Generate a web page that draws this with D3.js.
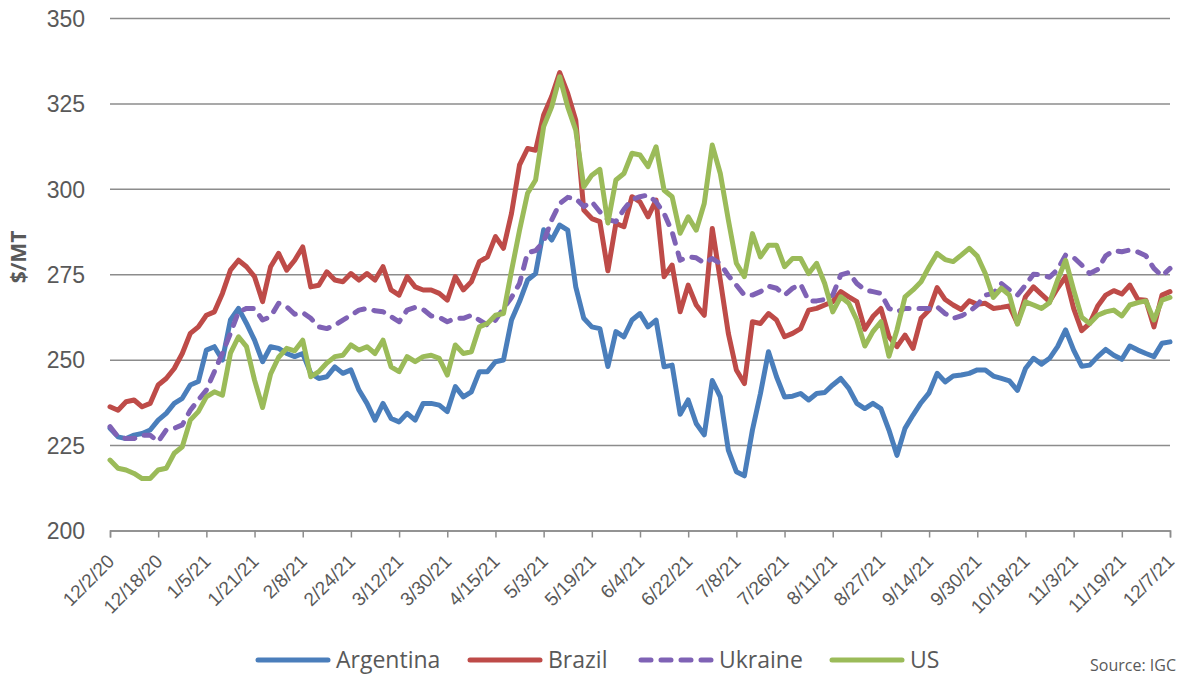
<!DOCTYPE html>
<html>
<head>
<meta charset="utf-8">
<script src="https://cdn.jsdelivr.net/npm/d3@7"></script>
<style>
  body { margin: 0; background: #fff; }
  svg { display: block; font-family: "Open Sans", sans-serif; }
</style>
</head>
<body>
<div id="vis"></div>
<script>
// x axis labels, one every 12 trading days (12/2/20 .. 12/7/21 = 264 steps)
const tickLabels = ["12/2/20", "12/18/20", "1/5/21", "1/21/21", "2/8/21", "2/24/21", "3/12/21",
  "3/30/21", "4/15/21", "5/3/21", "5/19/21", "6/4/21", "6/22/21", "7/8/21", "7/26/21", "8/11/21",
  "8/27/21", "9/14/21", "9/30/21", "10/18/21", "11/3/21", "11/19/21", "12/7/21"];
const nDays = 264;
const step = 2; // one reading every second trading day

const argentina = [
  229.9, 227.4, 226.9, 227.9, 228.4, 229.4, 232.3, 234.3, 237.2, 238.7, 242.6, 243.6, 252.8, 253.8, 249.9, 261.6, 265.0, 260.6, 255.7, 249.4, 253.8, 253.3,
  251.8, 250.9, 251.8, 246.0, 244.5, 245.0, 247.9, 246.0, 247.0, 241.1, 237.2, 232.3, 237.2, 232.8, 231.8, 234.3, 232.3, 237.2, 237.2, 236.7, 234.8, 242.1,
  239.1, 240.6, 246.5, 246.5, 249.4, 249.9, 261.6, 267.0, 273.3, 275.2, 288.0, 285.0, 289.4, 287.9, 271.3, 262.1, 259.6, 259.1, 248.0, 258.2, 256.7, 261.6,
  263.5, 259.6, 261.6, 247.9, 248.4, 234.0, 238.2, 231.3, 228.0, 243.9, 239.1, 223.5, 217.2, 216.0, 229.4, 240.1, 252.3, 245.0, 239.1, 239.3, 240.1, 238.2,
  240.1, 240.4, 242.6, 244.5, 241.6, 237.2, 235.7, 237.2, 235.7, 229.4, 222.0, 229.9, 233.8, 237.4, 240.3, 246.0, 243.5, 245.2, 245.5, 246.0, 247.0, 247.0,
  245.2, 244.5, 243.8, 241.0, 247.4, 250.4, 248.7, 250.4, 253.8, 258.7, 252.8, 248.1, 248.4, 250.9, 253.0, 251.3, 250.1, 254.0, 252.8, 251.8, 250.9, 254.8, 255.2
];
const brazil = [
  236.2, 235.2, 237.7, 238.2, 236.2, 237.2, 242.6, 244.5, 247.4, 251.8, 257.7, 259.6, 263.0, 264.0, 269.4, 276.2, 279.1, 277.2, 274.3, 267.0, 277.2, 281.1,
  276.2, 279.1, 283.0, 271.3, 271.8, 275.7, 273.3, 272.8, 275.2, 273.3, 275.2, 273.3, 277.2, 270.4, 268.9, 274.3, 271.3, 270.4, 270.4, 269.4, 267.4, 274.3,
  270.4, 272.8, 278.7, 280.1, 286.0, 282.6, 292.8, 307.0, 311.8, 311.3, 321.6, 327.0, 334.0, 327.9, 320.1, 293.8, 291.3, 290.4, 276.0, 289.9, 288.9, 297.7,
  296.2, 291.8, 296.7, 274.3, 277.7, 264.0, 271.8, 266.0, 263.0, 288.4, 273.3, 257.7, 247.0, 243.0, 261.1, 260.6, 263.5, 261.6, 256.7, 257.7, 259.1, 264.5,
  265.0, 266.0, 267.0, 269.9, 268.4, 267.0, 258.9, 262.6, 265.0, 256.7, 253.8, 257.2, 253.3, 262.1, 264.5, 271.1, 267.6, 266.0, 264.7, 267.2, 266.2, 266.5,
  265.0, 265.3, 265.7, 260.6, 268.4, 271.3, 269.1, 267.0, 270.9, 274.3, 265.0, 258.5, 260.6, 265.7, 268.9, 270.2, 269.2, 271.8, 267.6, 267.4, 259.6, 268.9, 269.9
];
const ukraine = [
  230.4, 227.4, 226.9, 226.9, 227.9, 227.9, 226.0, 229.4, 229.9, 230.9, 235.2, 238.2, 241.1, 246.5, 251.9, 257.7, 264.0, 265.0, 265.0, 261.6, 262.6, 266.5,
  265.5, 263.3, 263.8, 262.1, 259.6, 259.1, 260.1, 261.6, 263.0, 264.5, 265.0, 264.3, 264.0, 262.6, 261.1, 264.5, 265.3, 264.7, 262.8, 262.4, 261.1, 262.1,
  262.1, 263.0, 261.6, 260.1, 261.6, 265.0, 268.2, 272.3, 281.3, 281.9, 284.5, 290.9, 295.7, 297.5, 297.2, 294.8, 296.2, 293.3, 291.0, 290.4, 294.0, 296.9,
  297.7, 298.2, 296.2, 292.8, 287.4, 279.1, 280.1, 279.8, 278.3, 279.6, 278.1, 274.6, 271.8, 268.9, 268.9, 269.9, 271.5, 270.9, 268.9, 270.9, 272.1, 267.2,
  267.2, 267.6, 268.9, 274.8, 275.5, 272.3, 270.4, 269.9, 269.4, 265.0, 264.0, 265.0, 265.0, 265.0, 265.0, 265.5, 263.5, 262.1, 262.8, 264.0, 266.0, 268.9,
  269.4, 272.3, 270.4, 268.9, 271.8, 275.0, 274.8, 274.1, 276.4, 280.6, 279.9, 277.7, 275.2, 276.4, 280.4, 281.9, 281.6, 282.1, 281.5, 280.4, 276.7, 274.5, 276.7
];
const us = [
  220.6, 218.2, 217.7, 216.7, 215.2, 215.2, 217.7, 218.2, 222.6, 224.5, 232.3, 234.8, 239.1, 240.6, 239.6, 251.9, 256.7, 253.8, 244.0, 236.0, 245.8, 250.7,
  253.3, 252.6, 255.7, 245.0, 246.5, 249.0, 250.9, 251.3, 254.3, 252.8, 253.8, 251.8, 255.7, 247.9, 246.5, 250.9, 249.4, 250.9, 251.3, 250.4, 245.5, 254.3,
  251.8, 252.3, 259.6, 260.6, 263.0, 263.5, 276.0, 287.9, 298.7, 302.6, 318.2, 324.0, 332.8, 324.0, 317.2, 300.6, 304.0, 305.7, 290.0, 302.6, 304.5, 310.4,
  309.9, 306.5, 312.3, 299.6, 297.7, 287.0, 291.8, 287.9, 295.7, 312.8, 304.5, 290.9, 278.2, 274.3, 286.9, 280.1, 283.5, 283.5, 277.2, 279.6, 279.6, 275.2,
  278.2, 272.3, 264.0, 268.4, 266.5, 261.6, 254.0, 258.2, 261.1, 251.0, 258.7, 268.4, 270.4, 272.8, 277.2, 281.1, 279.3, 278.7, 280.6, 282.6, 280.3, 275.2,
  268.2, 270.9, 268.9, 260.4, 266.9, 266.0, 265.0, 266.7, 273.3, 279.1, 270.4, 262.4, 260.6, 263.0, 264.0, 264.5, 262.8, 266.0, 266.7, 267.2, 261.6, 267.4, 268.2
];
const yTicks = [200, 225, 250, 275, 300, 325, 350];

const series = [
  { name: "Argentina", values: argentina, color: "#4a7ebb", dash: null },
  { name: "Brazil", values: brazil, color: "#be4b48", dash: null },
  { name: "Ukraine", values: ukraine, color: "#7f62b5", dash: "10,10" },
  { name: "US", values: us, color: "#9bbb59", dash: null }
];

const W = 1181, H = 675;
const margin = { top: 18, left: 110 };
const width = 1060, height = 512.5;

const root = d3.select("#vis").append("svg")
  .attr("width", W).attr("height", H);
const svg = root.append("g")
  .attr("transform", `translate(${margin.left},${margin.top})`);

const x = d3.scaleLinear().domain([0, nDays]).range([0, width]);
const y = d3.scaleLinear().domain([200, 350]).range([height, 0]);

// y axis + gridlines
const yAxis = svg.append("g")
  .call(d3.axisLeft(y).tickValues(yTicks).tickSize(-width).tickPadding(25));
yAxis.select(".domain").remove();
yAxis.selectAll(".tick line").attr("stroke", "#8c8c8c").attr("stroke-width", 1.5);
yAxis.selectAll(".tick text")
  .attr("fill", "#595959").style("font-size", "23px").attr("dy", "0.36em");

// x axis
const xAxis = svg.append("g")
  .attr("transform", `translate(0,${height})`)
  .call(d3.axisBottom(x).tickValues(d3.range(0, nDays + 1, 12)).tickSize(7)
    .tickFormat((d, i) => tickLabels[i]));
xAxis.select(".domain").attr("stroke", "#8c8c8c").attr("stroke-width", 1.5);
xAxis.selectAll(".tick line").attr("stroke", "#8c8c8c").attr("stroke-width", 1.5);
xAxis.selectAll(".tick text")
  .attr("x", 0).attr("y", 0).attr("dy", 0)
  .attr("transform", "translate(5,32) rotate(-45)")
  .style("text-anchor", "end")
  .style("font-size", "19px")
  .attr("fill", "#595959");

// y title
root.append("text")
  .attr("transform", "translate(26,257) rotate(-90)")
  .attr("text-anchor", "middle")
  .style("font-size", "21px").style("font-weight", "bold")
  .attr("fill", "#595959")
  .text("$/MT");

// lines
const line = d3.line()
  .x((d, i) => x(i * step))
  .y(d => y(d));

series.forEach(s => {
  svg.append("path")
    .datum(s.values)
    .attr("fill", "none")
    .attr("stroke", s.color)
    .attr("stroke-width", 5)
    .attr("stroke-linejoin", "round")
    .attr("stroke-linecap", "round")
    .attr("stroke-dasharray", s.dash)
    .attr("d", line);
});

// legend
const legendX = [258, 470, 641, 832];
const legend = root.append("g").attr("transform", "translate(0,660)");
series.forEach((s, i) => {
  legend.append("line")
    .attr("x1", legendX[i]).attr("x2", legendX[i] + 70)
    .attr("y1", 0).attr("y2", 0)
    .attr("stroke", s.color).attr("stroke-width", 5)
    .attr("stroke-linecap", "round")
    .attr("stroke-dasharray", s.dash);
  legend.append("text")
    .attr("x", legendX[i] + 78).attr("y", 8)
    .style("font-size", "23px")
    .attr("fill", "#595959")
    .text(s.name);
});

root.append("text")
  .attr("x", 1176).attr("y", 671)
  .attr("text-anchor", "end")
  .style("font-size", "16px")
  .attr("fill", "#595959")
  .text("Source: IGC");
</script>
</body>
</html>
